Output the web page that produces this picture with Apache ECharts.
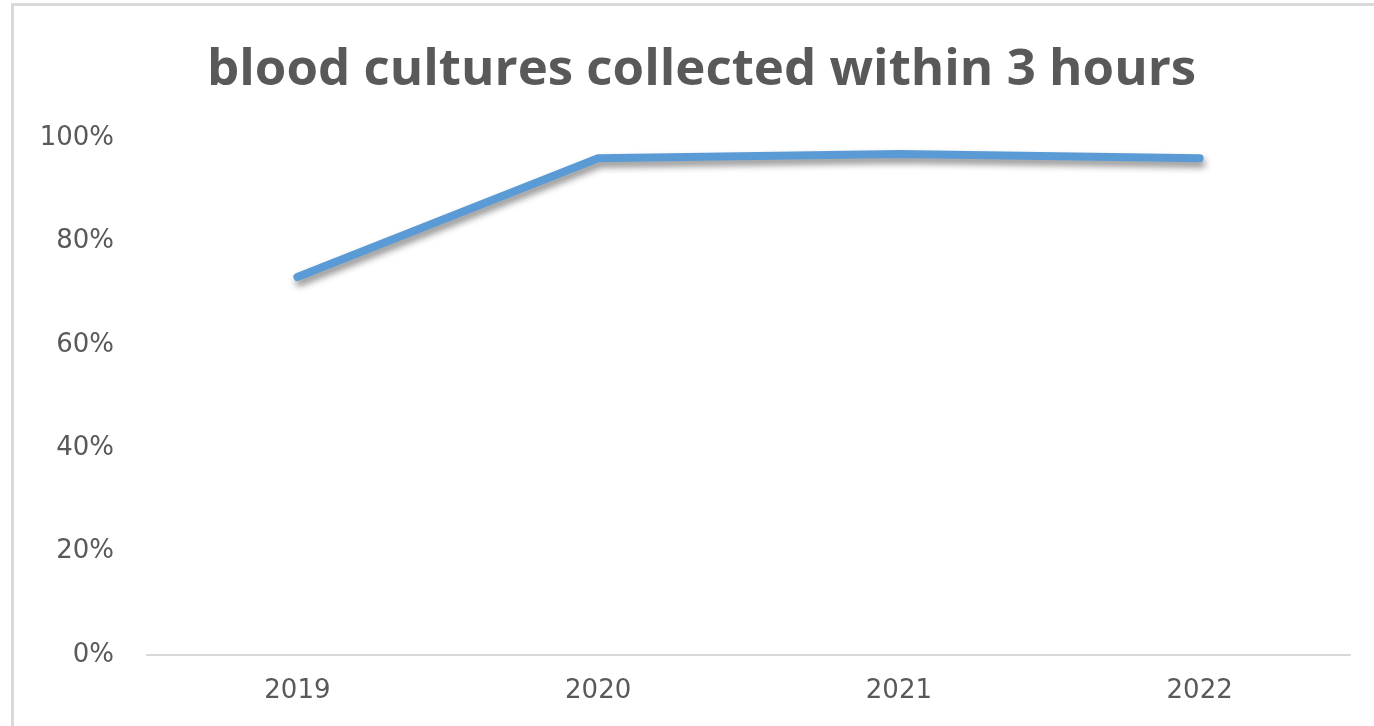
<!DOCTYPE html>
<html>
<head>
<meta charset="utf-8">
<script src="https://cdn.jsdelivr.net/npm/echarts@6/dist/echarts.min.js"></script>
<style>
  html, body { margin: 0; padding: 0; background: #fff; }
  #frame { position: absolute; left: 11px; top: 3px; width: 1400px; height: 760px;
           border-left: 3px solid #d9d9d9; border-top: 3px solid #d9d9d9; }
  #main { position: absolute; left: 0; top: 0; width: 1374px; height: 726px; }
</style>
</head>
<body>
<div id="frame"></div>
<div id="main"></div>
<script>
  // years on the x axis
  var years = ['2019', '2020', '2021', '2022'];
  // share collected within 3 hours
  var collected = [0.731, 0.961, 0.969, 0.961];

  var chart = echarts.init(document.getElementById('main'));

  var option = {
    title: {
      text: 'blood cultures collected within 3 hours',
      left: 202,
      top: 40,
      textStyle: {
        fontFamily: 'Open Sans',
        fontWeight: 'bold',
        fontSize: 51,
        color: '#595959'
      }
    },
    grid: {
      left: 147,
      right: 24,
      top: 138,
      bottom: 71
    },
    xAxis: {
      type: 'category',
      data: years,
      boundaryGap: true,
      axisLine: { lineStyle: { color: '#d9d9d9', width: 2 } },
      axisTick: { show: false },
      axisLabel: {
        color: '#595959',
        fontFamily: 'DejaVu Sans',
        fontSize: 26,
        margin: 23
      }
    },
    yAxis: {
      type: 'value',
      min: 0,
      max: 1,
      interval: 0.2,
      splitLine: { show: false },
      axisLine: { show: false },
      axisTick: { show: false },
      axisLabel: {
        color: '#595959',
        fontFamily: 'DejaVu Sans',
        fontSize: 26,
        margin: 33,
        formatter: function (v) { return Math.round(v * 100) + '%'; }
      }
    },
    series: [
      {
        name: 'collected',
        type: 'line',
        data: collected,
        symbol: 'none',
        lineStyle: {
          color: '#5b9bd5',
          width: 8,
          cap: 'round',
          join: 'round',
          shadowColor: 'rgba(0,0,0,0.45)',
          shadowBlur: 7,
          shadowOffsetX: 2,
          shadowOffsetY: 5
        }
      }
    ]
  };

  chart.setOption(option);
</script>
</body>
</html>
